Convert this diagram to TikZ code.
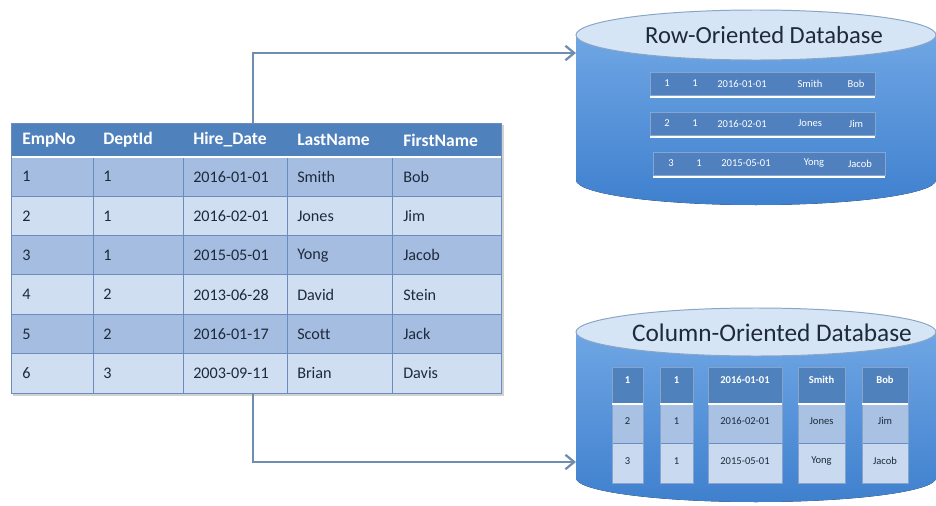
\documentclass[tikz,border=0pt]{standalone}
\usepackage{fontspec}
\setmainfont{Carlito}[Ligatures=NoCommon]
\usepackage{xcolor}
\usetikzlibrary{arrows.meta}
\usetikzlibrary{calc}

\definecolor{hdrblue}{HTML}{4F81BD}
\definecolor{rowdark}{HTML}{A4BDE0}
\definecolor{rowlight}{HTML}{D0DEF2}
\definecolor{gridblue}{HTML}{6A8CBE}
\definecolor{txtdark}{HTML}{1E2A3C}
\definecolor{linkblue}{HTML}{6F8DB0}
\definecolor{cyltop}{HTML}{D5E5F6}
\definecolor{cylrim}{HTML}{8AA6C6}
\definecolor{cyllight}{HTML}{6FA6E4}
\definecolor{cyldark}{HTML}{3F80CE}
\definecolor{stripblue}{HTML}{5080BE}
\definecolor{colmid}{HTML}{A9C2E3}
\definecolor{collight}{HTML}{C9DAF0}

\begin{document}
\begin{tikzpicture}[x=0.025cm, y=0.025cm]
        % ================= styles =================
        \tikzset{
            % table header text
            hdr/.style={anchor=west, text=white, font=\fontsize{12.5}{14}\selectfont\bfseries, inner sep=0pt},
            % table body text
            cell/.style={anchor=west, text=txtdark, font=\fontsize{11.5}{13}\selectfont, inner sep=0pt},
            % small text inside the database cylinders
            tiny/.style={text=#1, font=\fontsize{7.5}{9}\selectfont, inner sep=0pt},
            tiny/.default=white,
            % grid lines of the table
            grid/.style={gridblue, line width=0.7pt},
            % connectors
            link/.style={linkblue, line width=1.6pt, -{Straight Barb[length=2.2mm, width=3.6mm]}},
            % one record strip in the row store
            strip/.style={fill=stripblue, draw=stripblue!70!white, line width=0.5pt},
            % cylinder top and body
            cyltopshape/.style={fill=cyltop, draw=cylrim, line width=0.7pt},
            cylbody/.style={top color=cyllight, bottom color=cyldark}
        }

        \useasboundingbox (0,0) rectangle (936,-506);

        % ================= 1. source table =================
        \node[minimum width=490*0.025cm, minimum height=270*0.025cm, anchor=north west, inner sep=0pt] (tbl) at (11,-123) {};
        \coordinate (tabtop) at (253,-123);
        \coordinate (tabbot) at (253,-393);

        % soft shadow
        \fill[black!18] (13,-125) rectangle (504,-396);

        % header and row backgrounds
        \fill[hdrblue] (11,-123) rectangle (501,-157);
        \foreach \r in {1,...,6} {
            \pgfmathsetmacro\ytop{-157-(\r-1)*39.33}
            \pgfmathsetmacro\ybot{-157-\r*39.33}
            \pgfmathtruncatemacro\odd{mod(\r,2)}
            \ifnum\odd=1
                \fill[rowdark] (11,\ytop) rectangle (501,\ybot);
            \else
                \fill[rowlight] (11,\ytop) rectangle (501,\ybot);
            \fi
        }

        % grid
        \foreach \r in {1,...,5} \draw[grid] (11,{-157-\r*39.33}) -- (501,{-157-\r*39.33});
        \foreach \x in {93,183,287,392} \draw[grid] (\x,-157) -- (\x,-393);
        \draw[grid] (11,-123) rectangle (501,-393);
        \draw[white, line width=1.6pt] (11.5,-157) -- (500.5,-157);

        % header text
        \foreach \t/\x [count=\i] in {EmpNo/22, DeptId/103, Hire\_Date/193, LastName/297, FirstName/403}
            \node[hdr] (h\i) at (\x,-140) {\t};

        % body text
        \foreach \a/\b/\c/\d/\e [count=\r] in {1/1/2016-01-01/Smith/Bob, 2/1/2016-02-01/Jones/Jim,
                3/1/2015-05-01/Yong/Jacob, 4/2/2013-06-28/David/Stein,
                5/2/2016-01-17/Scott/Jack, 6/3/2003-09-11/Brian/Davis} {
            \pgfmathsetmacro\yy{-157-(\r-0.5)*39.33}
            \node[cell] (r\r-1) at (22,\yy) {\a};
            \node[cell] (r\r-2) at (103,\yy) {\b};
            \node[cell] (r\r-3) at (193,\yy) {\c};
            \node[cell] (r\r-4) at (297,\yy) {\d};
            \node[cell] (r\r-5) at (403,\yy) {\e};
        }

        % ================= 2. row oriented database =================
        \fill[cylbody] (576,-35) -- (576,-180) arc (180:360:180 and 25) -- (936,-35) -- cycle;
        \draw[cyltopshape] (756,-35) ellipse (180 and 25);
        \node[font=\fontsize{17.5}{19}\selectfont, text=txtdark] (rowtitle) at (764,-35) {Row-Oriented Database};
        \coordinate (rowdb) at (576,-53);

        % record strips
        \foreach \y/\dx/\w [count=\s] in {72/0/225, 112/0/225, 152/3/232} {
            \draw[strip] (650+\dx,-\y) rectangle (650+\dx+\w,-\y-23);
            \draw[white, line width=1.3pt] (650+\dx,-\y-25) -- (650+\dx+\w,-\y-25);
        }
        \foreach \a/\b/\c/\d/\e/\y/\dx [count=\s] in {1/1/2016-01-01/Smith/Bob/83.5/0,
                2/1/2016-02-01/Jones/Jim/123.5/0, 3/1/2015-05-01/Yong/Jacob/163.5/4} {
            \node[tiny] (s\s-1) at (667+\dx,-\y) {\a};
            \node[tiny] (s\s-2) at (695+\dx,-\y) {\b};
            \node[tiny] (s\s-3) at (742+\dx,-\y) {\c};
            \node[tiny] (s\s-4) at (810+\dx,-\y) {\d};
            \node[tiny] (s\s-5) at (856+\dx,-\y) {\e};
        }

        % ================= 3. column oriented database =================
        \fill[cylbody] (576,-332) -- (576,-478) arc (180:360:180 and 24) -- (936,-332) -- cycle;
        \draw[cyltopshape] (756,-332) ellipse (180 and 24);
        \node[font=\fontsize{18}{20}\selectfont, text=txtdark] (coltitle) at (772,-333) {Column-Oriented Database};
        \coordinate (coldb) at (576,-462);

        % column strips
        \foreach \xl/\xr/\t/\u/\v [count=\k] in {612/643/1/2/3, 660/693/1/1/1,
                708/782/2016-01-01/2016-02-01/2015-05-01, 798/845/Smith/Jones/Yong, 862/908/Bob/Jim/Jacob} {
            \fill[hdrblue] (\xl,-367) rectangle (\xr,-403);
            \fill[colmid] (\xl,-405) rectangle (\xr,-443);
            \fill[collight] (\xl,-443) rectangle (\xr,-483);
            \draw[gridblue, line width=0.5pt] (\xl,-443) -- (\xr,-443);
            \draw[gridblue!80!white, line width=0.5pt] (\xl,-367) rectangle (\xr,-483);
            \draw[white, line width=1.5pt] (\xl,-404) -- (\xr,-404);
            \node[tiny, font=\fontsize{7.5}{9}\selectfont\bfseries] (k\k-1) at ({(\xl+\xr)/2},-380) {\t};
            \node[tiny=txtdark] (k\k-2) at ({(\xl+\xr)/2},-421) {\u};
            \node[tiny=txtdark] (k\k-3) at ({(\xl+\xr)/2},-461) {\v};
        }

        % ================= 4. connectors =================
        \draw[link] (tabtop) |- (rowdb);
        \draw[link] (tabbot) |- (coldb);

\end{tikzpicture}
\end{document}
